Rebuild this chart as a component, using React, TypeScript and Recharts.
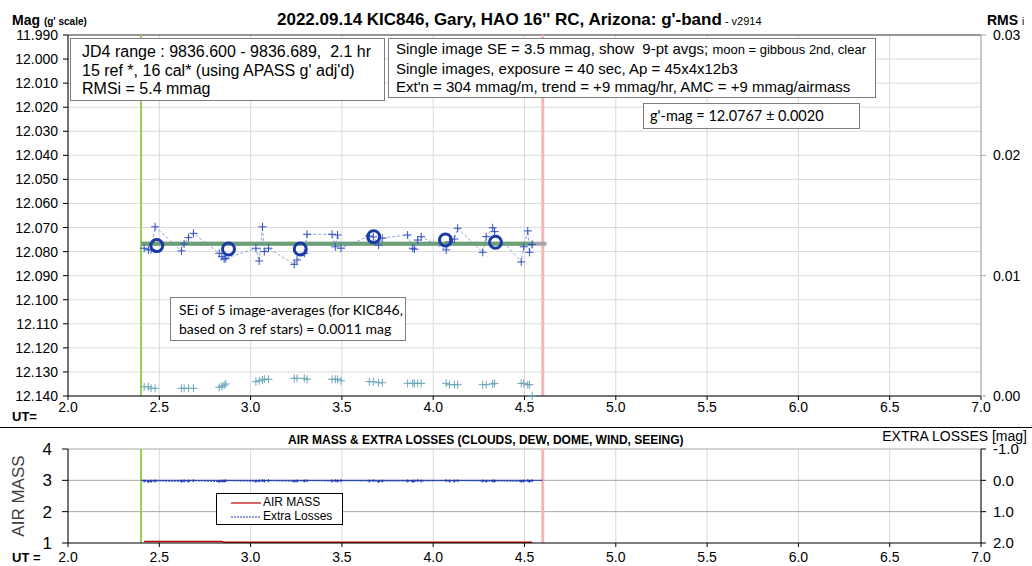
import React from 'react';
import {
  ComposedChart,
  Line,
  Scatter,
  XAxis,
  YAxis,
  CartesianGrid,
  ReferenceLine
} from 'recharts';

// UT (hr) of each single image
const ut = [
  2.417, 2.44, 2.455, 2.477,
  2.621, 2.636, 2.66, 2.687,
  2.828, 2.843, 2.855, 2.864,
  3.029, 3.047, 3.065, 3.075, 3.098,
  3.239, 3.254, 3.294, 3.309,
  3.446, 3.464, 3.476, 3.495,
  3.65, 3.672, 3.701, 3.721,
  3.86, 3.888, 3.897, 3.915, 3.934,
  4.071, 4.089, 4.116, 4.134,
  4.271, 4.29, 4.326, 4.336,
  4.482, 4.496, 4.518, 4.527, 4.542
];
const mag = [
  12.0786, 12.0793, 12.0791, 12.0697,
  12.0797, 12.0768, 12.0742, 12.0724,
  12.0807, 12.0821, 12.0831, 12.0828,
  12.0786, 12.0839, 12.0697, 12.08, 12.0786,
  12.0853, 12.0835, 12.0807, 12.0728,
  12.0728, 12.078, 12.0731, 12.0786,
  12.0735, 12.0739, 12.0773, 12.0744,
  12.0731, 12.0786, 12.079, 12.0752, 12.0738,
  12.0793, 12.076, 12.0748, 12.0703,
  12.0803, 12.0738, 12.0701, 12.0717,
  12.0843, 12.078, 12.0714, 12.0803, 12.077
];
const rms = [
  0.00077, 0.00077, 0.00064, 0.00064,
  0.00064, 0.00064, 0.00064, 0.00064,
  0.00072, 0.00081, 0.00089, 0.001,
  0.00119, 0.00125, 0.00133, 0.00139, 0.00139,
  0.00147, 0.00147, 0.00147, 0.00139,
  0.00139, 0.00139, 0.00139, 0.00127,
  0.00119, 0.00119, 0.0011, 0.0011,
  0.00105, 0.00105, 0.00105, 0.00105, 0.00105,
  0.00105, 0.00094, 0.00094, 0.00094,
  0.00094, 0.00094, 0.001, 0.00105,
  0.00105, 0.00105, 0.00094, 0.00094, 0.0
];
const airMass = [
  1.05, 1.05, 1.05, 1.05,
  1.05, 1.05, 1.05, 1.05,
  1.05, 1.05, 1.02, 1.02,
  1.02, 1.02, 1.02, 1.02, 1.02,
  1.02, 1.02, 1.02, 1.02,
  1.02, 1.02, 1.02, 1.02,
  1.02, 1.02, 1.02, 1.02,
  1.02, 1.02, 1.02, 1.02, 1.02,
  1.02, 1.02, 1.02, 1.02,
  1.02, 1.02, 1.02, 1.02,
  1.02, 1.02, 1.02, 1.02, 1.02
];
const extraLoss = [
  0.02, 0.04, 0.03, 0.02,
  0.03, 0.02, 0.02, 0.01,
  0.04, 0.02, 0.03, 0.01,
  0.03, 0.02, 0.01, 0.02, 0.01,
  0.03, 0.02, 0.02, 0.01,
  0.02, 0.01, 0.02, 0.01,
  0.02, 0.01, 0.04, 0.02,
  0.02, 0.03, 0.02, 0.01, 0.02,
  0.01, 0.02, 0.02, 0.01,
  0.02, 0.03, 0.02, 0.02,
  0.03, 0.02, 0.01, 0.03, 0.01
];

// 9-pt averages
const avgUt = [2.486, 2.879, 3.272, 3.674, 4.067, 4.341];
const avgMag = [12.0775, 12.0789, 12.0789, 12.0738, 12.0752, 12.0761];

const gMag = 12.0767;
const startUt = 2.4;
const endUt = 4.6;

const xTicks = [2, 2.5, 3, 3.5, 4, 4.5, 5, 5.5, 6, 6.5, 7];
const magTicks = [
  11.99, 12.0, 12.01, 12.02, 12.03, 12.04, 12.05, 12.06,
  12.07, 12.08, 12.09, 12.1, 12.11, 12.12, 12.13, 12.14
];
const rmsTicks = [0, 0.01, 0.02, 0.03];
const amTicks = [1, 2, 3, 4];
const elTicks = [-1, 0, 1, 2];

const points = ut.map((t, i) => ({
  ut: t,
  mag: mag[i],
  rms: rms[i],
  am: airMass[i],
  el: extraLoss[i]
}));
const avgs = avgUt.map((t, i) => ({ ut: t, mag: avgMag[i] }));
const magLine = [
  { ut: startUt, mag: gMag },
  { ut: 4.55, mag: gMag }
];
const magTail = [
  { ut: startUt, mag: gMag },
  { ut: 4.62, mag: gMag }
];
const zeroLoss = [
  { ut: startUt, el: 0 },
  { ut: endUt, el: 0 }
];

const FONT = '"Liberation Sans", Arial, sans-serif';
const CAL = 'Lato, "Liberation Sans", sans-serif';

const plus = (color: string, s: number) => (props: any) => {
  const { cx, cy, index } = props;
  if (cx == null || cy == null) return <g key={index} />;
  return (
    <path
      key={index}
      d={`M${cx - s},${cy}H${cx + s}M${cx},${cy - s}V${cy + s}`}
      stroke={color}
      strokeWidth={1}
      fill="none"
    />
  );
};

const ring = (props: any) => {
  const { cx, cy } = props;
  return <circle cx={cx} cy={cy} r={6} fill="none" stroke="#1a3aa8" strokeWidth={3} />;
};

const tickStyle = { fontSize: 14, fill: '#000', fontFamily: FONT };

const box: React.CSSProperties = {
  position: 'absolute',
  background: '#fff',
  border: '1px solid #7f7f7f',
  boxSizing: 'border-box',
  whiteSpace: 'nowrap',
  color: '#000'
};

export default function App() {
  return (
    <div style={{ position: 'absolute', left: 0, top: 0, width: 1032, height: 566, background: '#fff', fontFamily: FONT }}>
      <ComposedChart
        width={1032}
        height={420}
        margin={{ top: 35, right: 0, bottom: 0, left: 0 }}
        style={{ position: 'absolute', left: 0, top: 0 }}
      >
        <CartesianGrid yAxisId="mag" stroke="#d9d9d9" />
        <XAxis
          dataKey="ut"
          type="number"
          domain={[2, 7]}
          ticks={xTicks}
          tickFormatter={(v: number) => v.toFixed(1)}
          height={24}
          tickSize={4}
          tickMargin={2}
          stroke="#000"
          tick={tickStyle}
          interval={0}
        />
        <YAxis
          yAxisId="mag"
          domain={[11.99, 12.14]}
          reversed
          ticks={magTicks}
          interval={0}
          tickFormatter={(v: number) => v.toFixed(3)}
          width={68}
          tickSize={5}
          tickMargin={5}
          stroke="#000"
          tick={tickStyle}
        />
        <YAxis
          yAxisId="rms"
          orientation="right"
          domain={[0, 0.03]}
          ticks={rmsTicks}
          interval={0}
          tickFormatter={(v: number) => v.toFixed(2)}
          width={51}
          tickSize={5}
          tickMargin={7}
          stroke="#a6a6a6"
          tick={tickStyle}
        />
        <ReferenceLine yAxisId="mag" y={11.99} stroke="#404040" strokeWidth={1} />
        <ReferenceLine yAxisId="mag" x={startUt} stroke="#92d050" strokeWidth={2} />
        <ReferenceLine yAxisId="mag" x={endUt} stroke="#f4b6b6" strokeWidth={3} />
        <Line
          yAxisId="mag"
          data={magTail}
          dataKey="mag"
          stroke="#a6a6a6"
          strokeWidth={4}
          dot={false}
          isAnimationActive={false}
        />
        <Line
          yAxisId="mag"
          data={magLine}
          dataKey="mag"
          stroke="#62a070"
          strokeOpacity={0.85}
          strokeWidth={4}
          dot={false}
          isAnimationActive={false}
        />
        <Line
          yAxisId="mag"
          data={points}
          dataKey="mag"
          stroke="#6f8fd0"
          strokeWidth={0.8}
          strokeDasharray="3 2"
          dot={plus('#3050c0', 4)}
          isAnimationActive={false}
        />
        <Scatter
          yAxisId="mag"
          data={avgs}
          dataKey="mag"
          shape={ring}
          isAnimationActive={false}
        />
        <Scatter
          yAxisId="rms"
          data={points}
          dataKey="rms"
          shape={plus('#6aa6b8', 4)}
          isAnimationActive={false}
        />
      </ComposedChart>

      {/* header texts */}
      <div style={{ position: 'absolute', left: 12, top: 12, fontWeight: 'bold', fontSize: 14 }}>
        Mag <span style={{ fontSize: 10 }}>(g' scale)</span>
      </div>
      <div style={{ position: 'absolute', left: 277, top: 10, whiteSpace: 'nowrap' }}>
        <span style={{ fontWeight: 'bold', fontSize: 17 }}>
          2022.09.14 KIC846, Gary, HAO 16'' RC, Arizona: g'-band
        </span>
        <span style={{ fontSize: 11 }}> - v2914</span>
      </div>
      <div style={{ position: 'absolute', left: 987, top: 12, fontWeight: 'bold', fontSize: 14 }}>
        RMS <span style={{ fontSize: 10, fontWeight: 'normal' }}>i</span>
      </div>
      <div style={{ position: 'absolute', left: 12, top: 409, fontWeight: 'bold', fontSize: 13 }}>UT=</div>

      <div style={{ ...box, left: 70, top: 38, width: 315, height: 63, fontSize: 16, lineHeight: '18.5px', padding: '4px 0 0 11px' }}>
        JD4 range : 9836.600 - 9836.689,&nbsp; 2.1 hr
        <br />
        15 ref *, 16 cal* (using APASS g' adj'd)
        <br />
        RMSi = 5.4 mmag
      </div>
      <div style={{ ...box, left: 388, top: 38, width: 488, height: 60, fontSize: 15, lineHeight: '18.5px', padding: '1px 0 0 7px' }}>
        Single image SE = 3.5 mmag, show&nbsp; 9-pt avgs; <span style={{ fontSize: 13 }}>moon = gibbous 2nd, clear</span>
        <br />
        Single images, exposure = 40 sec, Ap = 45x4x12b3
        <br />
        Ext'n = 304 mmag/m, trend = +9 mmag/hr, AMC = +9 mmag/airmass
      </div>
      <div style={{ ...box, left: 643, top: 103, width: 217, height: 26, fontFamily: CAL, fontSize: 14.5, lineHeight: '24px', paddingLeft: 6 }}>
        g'-mag = 12.0767 ± 0.0020
      </div>
      <div style={{ ...box, left: 170, top: 297, width: 236, height: 44, fontFamily: CAL, fontSize: 14, lineHeight: '19px', padding: '2px 0 0 8px' }}>
        SEi of 5 image-averages (for KIC846,
        <br />
        based on 3 ref stars) = 0.0011 mag
      </div>

      <div style={{ position: 'absolute', left: 0, top: 427, width: 1032, height: 0, borderTop: '1.5px solid #000' }} />

      <ComposedChart
        width={1032}
        height={138}
        margin={{ top: 21, right: 0, bottom: 0, left: 0 }}
        style={{ position: 'absolute', left: 0, top: 428 }}
      >
        <CartesianGrid yAxisId="am" horizontal={false} stroke="#d9d9d9" />
        <XAxis
          dataKey="ut"
          type="number"
          domain={[2, 7]}
          ticks={xTicks}
          tickFormatter={(v: number) => v.toFixed(1)}
          height={23}
          tickSize={4}
          tickMargin={5}
          stroke="#000"
          tick={tickStyle}
          interval={0}
        />
        <YAxis
          yAxisId="am"
          domain={[1, 4]}
          ticks={amTicks}
          interval={0}
          width={68}
          tickSize={6}
          tickMargin={10}
          stroke="#000"
          tick={{ ...tickStyle, fontSize: 17 }}
          label={{ value: 'AIR MASS', angle: -90, position: 'insideLeft', offset: 18, style: { fontSize: 17, fill: '#404040', fontFamily: FONT, textAnchor: 'middle' } }}
        />
        <YAxis
          yAxisId="el"
          orientation="right"
          domain={[-1, 2]}
          reversed
          ticks={elTicks}
          interval={0}
          tickFormatter={(v: number) => v.toFixed(1)}
          width={51}
          tickSize={5}
          tickMargin={7}
          stroke="#000"
          tick={{ ...tickStyle, fontSize: 15 }}
        />
        <ReferenceLine yAxisId="am" y={4} stroke="#a6a6a6" />
        <ReferenceLine yAxisId="am" y={3} stroke="#a6a6a6" />
        <ReferenceLine yAxisId="am" y={2} stroke="#a6a6a6" />
        <ReferenceLine yAxisId="am" x={startUt} stroke="#92d050" strokeWidth={2} />
        <ReferenceLine yAxisId="am" x={endUt} stroke="#f4b6b6" strokeWidth={3} />
        <Line
          yAxisId="el"
          data={zeroLoss}
          dataKey="el"
          stroke="#1f3fb0"
          strokeWidth={1}
          dot={false}
          isAnimationActive={false}
        />
        <Line
          yAxisId="am"
          data={points}
          dataKey="am"
          name="AIR MASS"
          stroke="#c00000"
          strokeWidth={1.5}
          dot={false}
          isAnimationActive={false}
        />
        <Line
          yAxisId="el"
          data={points}
          dataKey="el"
          name="Extra Losses"
          stroke="#1f3fb0"
          strokeWidth={1}
          strokeDasharray="2 1"
          dot={plus('#1f3fb0', 1.5)}
          isAnimationActive={false}
        />
      </ComposedChart>

      {/* legend of the lower panel */}
      <div
        style={{
          position: 'absolute',
          left: 216,
          top: 493,
          width: 127,
          height: 32,
          border: '1px solid #000',
          background: '#fff',
          boxSizing: 'border-box',
          fontSize: 12,
          padding: '1px 0 0 14px',
          lineHeight: '14px',
          whiteSpace: 'nowrap'
        }}
      >
        <div>
          <svg width={32} height={8} style={{ verticalAlign: 'middle' }}>
            <line x1={0} y1={4} x2={30} y2={4} stroke="#c00000" strokeWidth={1.2} />
          </svg>
          AIR MASS
        </div>
        <div>
          <svg width={32} height={8} style={{ verticalAlign: 'middle' }}>
            <line x1={0} y1={4} x2={30} y2={4} stroke="#1f3fb0" strokeWidth={1} strokeDasharray="2 1" />
          </svg>
          Extra Losses
        </div>
      </div>

      <div style={{ position: 'absolute', left: 288, top: 433, fontWeight: 'bold', fontSize: 12, whiteSpace: 'nowrap' }}>
        AIR MASS &amp; EXTRA LOSSES (CLOUDS, DEW, DOME, WIND, SEEING)
      </div>
      <div style={{ position: 'absolute', right: 5, top: 428, fontSize: 14, whiteSpace: 'nowrap' }}>
        EXTRA LOSSES [mag]
      </div>
      <div style={{ position: 'absolute', left: 12, top: 550, fontWeight: 'bold', fontSize: 13 }}>UT =</div>
    </div>
  );
}
